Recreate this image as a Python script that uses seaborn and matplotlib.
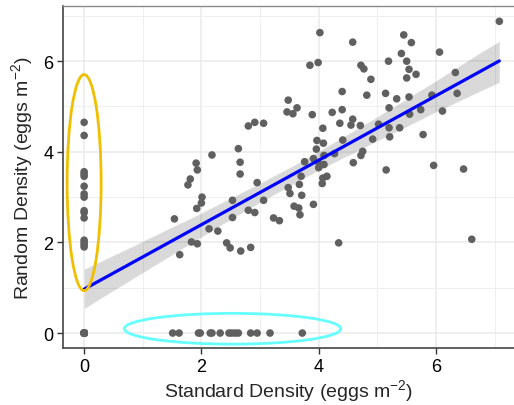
import numpy as np
import pandas as pd
import matplotlib
matplotlib.use("Agg")
import matplotlib.pyplot as plt
import seaborn as sns
from matplotlib.patches import Ellipse
from matplotlib.ticker import MultipleLocator

# ---- data ----
# sites with zero on both axes (overplotted at the origin)
standard_both_zero = [0, 0, 0, 0, 0, 0, 0, 0, 0, 0, 0, 0, 0, 0, 0, 0, 0, 0, 0]
random_both_zero = [0, 0, 0, 0, 0, 0, 0, 0, 0, 0, 0, 0, 0, 0, 0, 0, 0, 0, 0]

standard_zero_col = [0, 0, 0, 0, 0, 0, 0, 0, 0, 0, 0, 0, 0, 0, 0]
random_zero_col = [4.65, 4.36, 3.56, 3.51, 3.46, 3.24, 3.07, 3.00, 2.70, 2.66,
                   2.54, 2.05, 2.00, 1.95, 1.90]

standard_zero_row = [1.51, 1.62, 1.95, 1.98, 2.15, 2.18, 2.32, 2.47, 2.52, 2.58,
                     2.63, 2.84, 2.95, 3.17, 3.72]
random_zero_row = [0, 0, 0, 0, 0, 0, 0, 0, 0, 0, 0, 0, 0, 0, 0]

standard_cloud = [3.48, 3.46, 3.56, 3.63, 2.80, 2.91, 3.06, 2.63, 2.18, 2.66,
                  1.91, 1.93, 2.66, 1.81, 1.77, 2.95, 2.01, 2.00, 1.92, 1.54,
                  2.53, 2.80, 2.91, 3.06, 2.53, 2.13, 2.28, 1.83, 1.93, 2.43,
                  2.49, 2.67, 2.84, 1.63, 3.23, 3.33, 3.48, 3.51, 3.67, 3.58,
                  3.66, 3.68, 3.89, 4.23, 4.40, 4.36, 4.58, 4.55, 4.71, 5.20,
                  5.33, 5.02, 5.20, 5.38, 5.21, 4.92, 4.07, 4.41, 3.97, 4.08,
                  3.96, 3.91, 4.09, 3.76, 4.01, 4.09, 4.00, 4.27, 4.75, 4.72,
                  4.59, 5.15, 3.70, 4.14, 4.07, 4.06,
                  3.71, 3.91, 4.34, 4.02, 4.58, 5.45, 5.58, 6.06, 7.08, 5.41,
                  5.50, 5.19, 5.54, 5.66, 5.50, 4.72, 4.77, 4.89, 3.85, 3.99,
                  4.40, 4.82, 5.14, 5.54, 5.93, 6.33, 6.36, 5.74, 6.11, 5.55,
                  5.78, 5.96, 6.47, 6.61]
random_cloud = [5.14, 4.88, 4.84, 4.97, 4.57, 4.65, 4.63, 4.07, 3.93, 3.77,
                3.75, 3.60, 3.51, 3.40, 3.27, 3.32, 3.00, 2.87, 2.75, 2.52,
                2.93, 2.71, 2.66, 2.93, 2.55, 2.30, 2.25, 2.01, 1.97, 1.99,
                1.88, 1.81, 1.89, 1.73, 2.54, 2.48, 3.21, 3.08, 3.28, 2.80,
                2.76, 2.61, 4.82, 4.87, 4.93, 4.63, 4.72, 4.59, 4.58, 4.97,
                5.17, 4.61, 4.53, 4.53, 4.33, 4.28, 4.52, 4.26, 4.25, 4.19,
                4.06, 3.85, 3.92, 3.78, 3.73, 3.72, 3.65, 3.96, 4.01, 3.92,
                3.76, 3.60, 3.46, 3.46, 3.42, 3.30,
                3.04, 2.84, 1.99, 6.63, 6.42, 6.58, 6.41, 6.20, 6.88, 6.17,
                6.00, 6.00, 5.82, 5.71, 5.63, 5.91, 5.83, 5.60, 5.91, 5.97,
                5.33, 5.25, 5.29, 5.21, 5.25, 5.75, 5.29, 4.93, 4.90, 4.83,
                4.38, 3.70, 3.62, 2.07]

x_ticks = [0, 2, 4, 6]
y_ticks = [0, 2, 4, 6]
x_label = "Standard Density (eggs m$^{-2}$)"
y_label = "Random Density (eggs m$^{-2}$)"

assert len(standard_cloud) == len(random_cloud)

df = pd.DataFrame({
    "standard": standard_both_zero + standard_zero_col + standard_zero_row + standard_cloud,
    "random": random_both_zero + random_zero_col + random_zero_row + random_cloud,
})

# ---- style ----
sns.set_theme(style="white")
plt.rcParams["font.family"] = ["Liberation Sans", "DejaVu Sans"]
plt.rcParams["mathtext.fontset"] = "custom"
plt.rcParams["mathtext.rm"] = "Liberation Sans"
plt.rcParams["mathtext.it"] = "Liberation Sans:italic"
plt.rcParams["mathtext.default"] = "regular"

fig = plt.figure(figsize=(5.14, 4.06), dpi=100)
ax = fig.add_axes([0.1226, 0.1404, 0.8774, 0.8426])

ax.set_axisbelow(True)
ax.xaxis.set_major_locator(MultipleLocator(2))
ax.xaxis.set_minor_locator(MultipleLocator(1))
ax.yaxis.set_major_locator(MultipleLocator(2))
ax.yaxis.set_minor_locator(MultipleLocator(1))
ax.grid(which="major", color="#EBEBEB", linewidth=1.1)
ax.grid(which="minor", color="#EFEFEF", linewidth=0.7)

# CI band (grey) and regression line (blue)
sns.regplot(data=df, x="standard", y="random", ax=ax, scatter=False,
            color="black", line_kws={"alpha": 0.0}, ci=95, n_boot=2000, seed=3)
sns.regplot(data=df, x="standard", y="random", ax=ax, scatter=False,
            color="#0000FF", ci=None, line_kws={"linewidth": 2.3, "zorder": 4})

sns.scatterplot(data=df, x="standard", y="random", ax=ax, color="#606060",
                s=30, edgecolor="none", alpha=1.0, zorder=3)

# annotation ellipses
ax.add_patch(Ellipse((0.0, 3.32), 0.58, 4.77, fill=False,
                     edgecolor="#F0C000", linewidth=2.0, zorder=5))
ax.add_patch(Ellipse((2.53, 0.095), 3.69, 0.68, fill=False,
                     edgecolor="#66FFFF", linewidth=2.0, zorder=5))

ax.set_xlim(-0.36, 7.33)
ax.set_ylim(-0.33, 7.22)
ax.set_xticks(x_ticks)
ax.set_yticks(y_ticks)
ax.set_xticklabels([str(t) for t in x_ticks])
ax.set_yticklabels([str(t) for t in y_ticks])
ax.tick_params(axis="both", which="major", labelsize=13, length=4,
               width=1.0, color="#333333", labelcolor="black", pad=3,
               bottom=True, left=True)
ax.tick_params(axis="both", which="minor", length=0)

ax.set_xlabel(x_label, fontsize=14, labelpad=2)
ax.set_ylabel(y_label, fontsize=14, labelpad=6)

for side in ["left", "bottom"]:
    ax.spines[side].set_color("#444444")
    ax.spines[side].set_linewidth(1.2)
ax.spines["top"].set_color("#8A8A8A")
ax.spines["top"].set_linewidth(1.0)
ax.spines["right"].set_visible(False)

fig.savefig("out.png", dpi=100)
